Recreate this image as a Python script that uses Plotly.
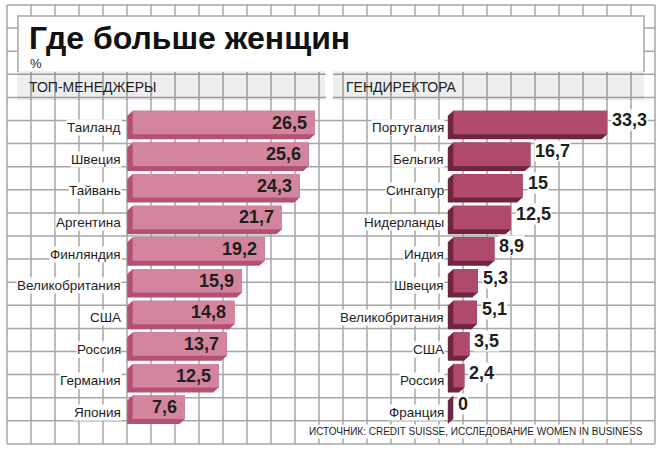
import plotly.graph_objects as go

# ---------------- data ----------------
title_text = "Где больше женщин"
unit_text = "%"
left_header = "ТОП-МЕНЕДЖЕРЫ"
right_header = "ГЕНДИРЕКТОРА"
source_text = "ИСТОЧНИК: CREDIT SUISSE, ИССЛЕДОВАНИЕ WOMEN IN BUSINESS"

left_countries = ["Таиланд", "Швеция", "Тайвань", "Аргентина", "Финляндия",
                  "Великобритания", "США", "Россия", "Германия", "Япония"]
left_values = [26.5, 25.6, 24.3, 21.7, 19.2, 15.9, 14.8, 13.7, 12.5, 7.6]

right_countries = ["Португалия", "Бельгия", "Сингапур", "Нидерланды", "Индия",
                   "Швеция", "Великобритания", "США", "Россия", "Франция"]
right_values = [33.3, 16.7, 15, 12.5, 8.9, 5.3, 5.1, 3.5, 2.4, 0]

# ---------------- layout constants ----------------
W, H = 665, 454
L0, LS = 132.7, 6.878      # left panel: pixel of zero, px per unit
R0, RS = 453.3, 4.62       # right panel
Y0, PITCH = 122.6, 31.63   # first row center, row pitch (px)
BAR_W = 0.743
SH_X, SH_Y = 5.5, 5.0      # 3D extrusion offset (px)

L_FRONT, L_SIDE = "#d2859d", "#b45172"
R_FRONT, R_SIDE = "#b04a6c", "#6f2442"
GRID = "#a6a6a6"
TXT = "#1e1e1e"

SANS = "Liberation Sans, Arial, sans-serif"


def px(x):
    return x / W


def py(y):
    return 1 - y / H


def fmt(v):
    return f"{v:g}".replace(".", ",")


fig = go.Figure()
left_y = list(range(len(left_countries)))
right_y = list(range(len(right_countries)))

fig.add_trace(go.Bar(x=left_values, y=left_y, orientation="h", base=0, width=BAR_W,
                     marker=dict(color=L_FRONT, line=dict(width=0)),
                     xaxis="x", yaxis="y", hoverinfo="skip", showlegend=False))
fig.add_trace(go.Bar(x=right_values, y=right_y, orientation="h", base=0, width=BAR_W,
                     marker=dict(color=R_FRONT, line=dict(width=0)),
                     xaxis="x2", yaxis="y2", hoverinfo="skip", showlegend=False))

shapes = []
# background grid
for k in range(28):
    x = 7 + 24 * k
    shapes.append(dict(type="line", xref="paper", yref="paper", x0=px(x), x1=px(x),
                       y0=py(5), y1=py(444), line=dict(color=GRID, width=1.5), layer="below"))
for k in range(20):
    y = 5 + 23.1 * k
    shapes.append(dict(type="line", xref="paper", yref="paper", x0=px(7), x1=px(655),
                       y0=py(y), y1=py(y), line=dict(color=GRID, width=1.5), layer="below"))
# title box
shapes.append(dict(type="rect", xref="paper", yref="paper", x0=px(18), x1=px(644),
                   y0=py(72), y1=py(16), fillcolor="white", line=dict(width=0), layer="below"))
shapes.append(dict(type="path", xref="paper", yref="paper",
                   path=f"M {px(18)},{py(72)} L {px(18)},{py(16)} L {px(644)},{py(16)} L {px(644)},{py(72)}",
                   line=dict(color=GRID, width=1.5), layer="below"))
shapes.append(dict(type="rect", xref="paper", yref="paper", x0=px(326), x1=px(333),
                   y0=py(100), y1=py(71), fillcolor="white", line=dict(width=0), layer="below"))
# header bands
for x0, x1 in [(17, 325), (333, 644)]:
    shapes.append(dict(type="rect", xref="paper", yref="paper", x0=px(x0), x1=px(x1),
                       y0=py(100), y1=py(71), fillcolor="rgba(0,0,0,0.065)",
                       line=dict(width=0), layer="below"))


def extrusion(values, scale, xr, yr, color):
    dx = SH_X / scale
    dy = SH_Y / PITCH
    out = []
    for i, v in enumerate(values):
        top, bot = i - BAR_W / 2, i + BAR_W / 2
        path = (f"M 0,{top} L {-dx},{top + dy} L {-dx},{bot + dy} "
                f"L {v - dx},{bot + dy} L {v},{bot} L {v},{top} Z")
        out.append(dict(type="path", xref=xr, yref=yr, path=path, fillcolor=color,
                        line=dict(width=0), layer="below"))
    return out


shapes += extrusion(left_values, LS, "x", "y", L_SIDE)
shapes += extrusion(right_values, RS, "x2", "y2", R_SIDE)

ann = []
ann.append(dict(text=title_text, xref="paper", yref="paper", x=px(27), y=py(38),
                xanchor="left", yanchor="middle", showarrow=False,
                font=dict(family=SANS, size=32, color="#111111", weight="bold")))
ann.append(dict(text=unit_text, xref="paper", yref="paper", x=px(28), y=py(64),
                xanchor="left", yanchor="middle", showarrow=False,
                font=dict(family=SANS, size=13, color=TXT)))
for x, t in [(27, left_header), (344, right_header)]:
    ann.append(dict(text=t, xref="paper", yref="paper", x=px(x), y=py(87),
                    xanchor="left", yanchor="middle", showarrow=False,
                    font=dict(family=SANS, size=14, color="#222222")))
ann.append(dict(text=source_text, xref="paper", yref="paper", x=px(645), y=py(431),
                xanchor="right", yanchor="middle", showarrow=False, bgcolor="white",
                font=dict(family=SANS, size=10, color=TXT)))

for i, c in enumerate(left_countries):
    ann.append(dict(text=c, xref="paper", yref="y", x=px(122), y=i, yshift=-5,
                    xanchor="right", yanchor="middle", showarrow=False, bgcolor="white",
                    borderpad=0, font=dict(family=SANS, size=13.5, color=TXT)))
for i, c in enumerate(right_countries):
    ann.append(dict(text=c, xref="paper", yref="y2", x=px(445), y=i, yshift=-5,
                    xanchor="right", yanchor="middle", showarrow=False, bgcolor="white",
                    borderpad=0, font=dict(family=SANS, size=13.5, color=TXT)))
for i, v in enumerate(left_values):
    ann.append(dict(text=fmt(v), xref="x", yref="y", x=v, y=i, xshift=-6, yshift=0,
                    xanchor="right", yanchor="middle", showarrow=False,
                    font=dict(family=SANS, size=18, color=TXT, weight="bold")))
for i, v in enumerate(right_values):
    ann.append(dict(text=fmt(v), xref="x2", yref="y2", x=v, y=i, xshift=4, yshift=3,
                    xanchor="left", yanchor="middle", showarrow=False, bgcolor="white",
                    borderpad=0,
                    font=dict(family=SANS, size=18, color=TXT, weight="bold")))

fig.update_layout(
    width=W, height=H, margin=dict(l=0, r=0, t=0, b=0),
    paper_bgcolor="white", plot_bgcolor="rgba(0,0,0,0)",
    xaxis=dict(domain=[0, 1], range=[(0 - L0) / LS, (W - L0) / LS], visible=False,
               fixedrange=True),
    yaxis=dict(domain=[0, 1], range=[(H - Y0) / PITCH, (0 - Y0) / PITCH], visible=False,
               fixedrange=True),
    xaxis2=dict(domain=[0, 1], range=[(0 - R0) / RS, (W - R0) / RS], visible=False,
                anchor="y2", fixedrange=True),
    yaxis2=dict(domain=[0, 1], range=[(H - Y0) / PITCH, (0 - Y0) / PITCH], visible=False,
                anchor="x2", fixedrange=True),
    shapes=shapes, annotations=ann, showlegend=False,
)

fig.write_html("out.html")
